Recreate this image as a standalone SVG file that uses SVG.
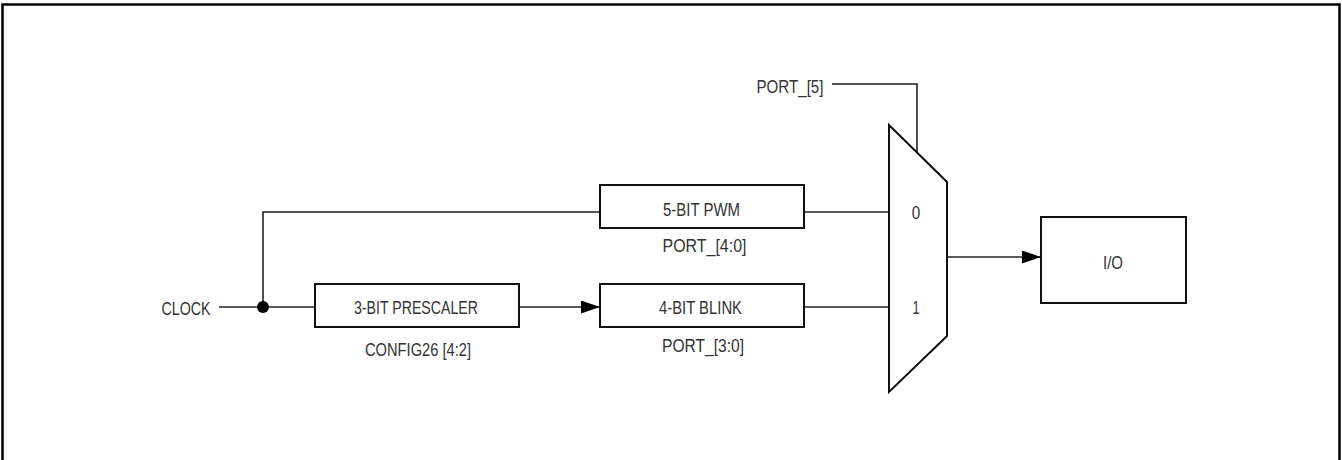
<svg xmlns="http://www.w3.org/2000/svg" width="1342" height="460" viewBox="0 0 1342 460">
<defs>
<style>
.box{fill:#fff;stroke:#111;stroke-width:2}
.w{fill:none;stroke:#222;stroke-width:1.6}
.t{font-family:"Liberation Sans",Arial,sans-serif;font-size:17.5px;fill:#333;text-anchor:middle}
.l{font-family:"Liberation Sans",Arial,sans-serif;font-size:17.5px;fill:#333}
</style>
<marker id="arr" viewBox="0 0 19 13" refX="19" refY="6.5" markerWidth="19" markerHeight="13" markerUnits="userSpaceOnUse" orient="auto">
<path d="M0,0 L19,6.5 L0,13 Z" fill="#000"/>
</marker>
</defs>
<rect x="0" y="0" width="1342" height="460" fill="#fff"/>
<path d="M2.5,460 V4.5 H1339.5 V460" fill="none" stroke="#000" stroke-width="2.5"/>
<g id="connectors">
<path class="w" d="M219,307 H315"/>
<path class="w" d="M263,307 V212 H600"/>
<path class="w" d="M519,307 H600" marker-end="url(#arr)"/>
<path class="w" d="M804,212 H889"/>
<path class="w" d="M804,307 H889"/>
<path class="w" d="M832,84 H917 V152.5"/>
<path class="w" d="M947,257 H1041" marker-end="url(#arr)"/>
<circle cx="263" cy="307" r="6" fill="#000"/>
</g>
<g id="clock">
<text class="l" x="161.5" y="314.5" textLength="49" lengthAdjust="spacingAndGlyphs">CLOCK</text>
</g>
<g id="prescaler">
<rect class="box" x="315" y="284" width="204" height="43"/>
<text class="t" x="416" y="314" textLength="124" lengthAdjust="spacingAndGlyphs">3-BIT PRESCALER</text>
<text class="t" x="418" y="355.5" textLength="106" lengthAdjust="spacingAndGlyphs">CONFIG26 [4:2]</text>
</g>
<g id="pwm">
<rect class="box" x="600" y="185" width="204" height="43"/>
<text class="t" x="701.5" y="215.5" textLength="77" lengthAdjust="spacingAndGlyphs">5-BIT PWM</text>
<text class="t" x="704.5" y="252" textLength="84" lengthAdjust="spacingAndGlyphs">PORT_[4:0]</text>
</g>
<g id="blink">
<rect class="box" x="600" y="284" width="204" height="43"/>
<text class="t" x="700.5" y="314" textLength="83" lengthAdjust="spacingAndGlyphs">4-BIT BLINK</text>
<text class="t" x="703" y="351.5" textLength="82" lengthAdjust="spacingAndGlyphs">PORT_[3:0]</text>
</g>
<g id="port5">
<text class="l" x="756.5" y="93" textLength="67" lengthAdjust="spacingAndGlyphs">PORT_[5]</text>
</g>
<g id="mux">
<polygon points="889,125 947,182 947,336 889,392" fill="#fff" stroke="#111" stroke-width="2"/>
<text class="t" x="916" y="218.5" textLength="8.5" lengthAdjust="spacingAndGlyphs">0</text>
<text class="t" x="916" y="313.5" textLength="7" lengthAdjust="spacingAndGlyphs">1</text>
</g>
<g id="io">
<rect class="box" x="1041" y="217" width="145" height="86"/>
<text class="t" x="1113" y="268.5" textLength="20" lengthAdjust="spacingAndGlyphs">I/O</text>
</g>
</svg>
